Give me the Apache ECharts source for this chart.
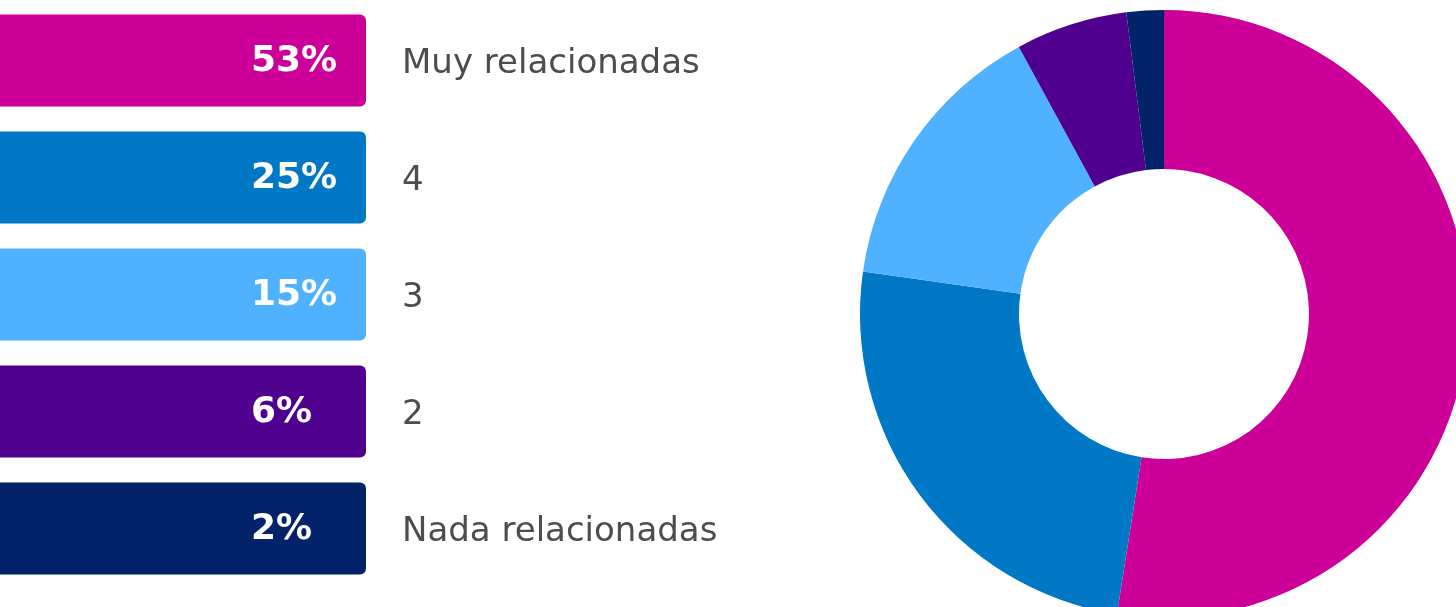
<!DOCTYPE html>
<html>
<head>
<meta charset="utf-8">
<script src="https://cdn.jsdelivr.net/npm/echarts@6/dist/echarts.min.js"></script>
<style>
  html,body{margin:0;padding:0;background:#fff;}
  #chart{width:1456px;height:607px;}
</style>
</head>
<body>
<div id="chart"></div>
<script>
// categorías de arriba a abajo
const categories = ['Muy relacionadas', '4', '3', '2', 'Nada relacionadas']
const percents = [53, 25, 15, 6, 2]
const colors = ['#cc0099', '#0078c6', '#50b2fe', '#4f008f', '#022369']

const chart = echarts.init(document.getElementById('chart'))

// barras tipo leyenda: ancho completo de la rejilla, altura según la banda de la categoría
function renderSwatch(params, api){
  const idx = api.value(0)
  const pos = api.coord([0, idx])
  const band = api.size([0, 1])[1]
  const h = band * 0.786
  const x0 = params.coordSys.x
  const w = params.coordSys.width
  return {
    type: 'group',
    children: [{
      type: 'rect',
      shape: {x: x0, y: pos[1] - h / 2, width: w, height: h, r: [0, 6, 6, 0]},
      style: {fill: colors[idx]}
    }, {
      type: 'text',
      style: {
        x: x0 + w - 115,
        y: pos[1] + 1,
        text: api.value(1) + '%',
        fill: '#fff',
        font: 'bold 36px "DejaVu Sans"',
        align: 'left',
        verticalAlign: 'middle'
      }
    }]
  }
}

const option = {
  animation: false,
  grid: {left: 0, top: 2, width: 366, height: 585},
  xAxis: {type: 'value', min: 0, max: 100, show: false},
  yAxis: {
    type: 'category',
    data: categories,
    inverse: true,
    position: 'right',
    axisLine: {show: false},
    axisTick: {show: false},
    axisLabel: {
      margin: 36,
      align: 'left',
      formatter: '{t|{value}}',
      rich: {
        t: {
          color: '#4d4d4d',
          fontSize: 34,
          fontFamily: 'DejaVu Sans',
          padding: [7, 0, 0, 0]
        }
      }
    }
  },
  series: [{
    type: 'custom',
    renderItem: renderSwatch,
    data: percents.map((p, i) => [i, p])
  }, {
    type: 'pie',
    center: [1164, 314],
    radius: [145, 304],
    startAngle: 90,
    clockwise: true,
    label: {show: false},
    labelLine: {show: false},
    itemStyle: {borderWidth: 0},
    data: categories.map((c, i) => ({name: c, value: percents[i], itemStyle: {color: colors[i]}}))
  }]
}
chart.setOption(option)
</script>
</body>
</html>
